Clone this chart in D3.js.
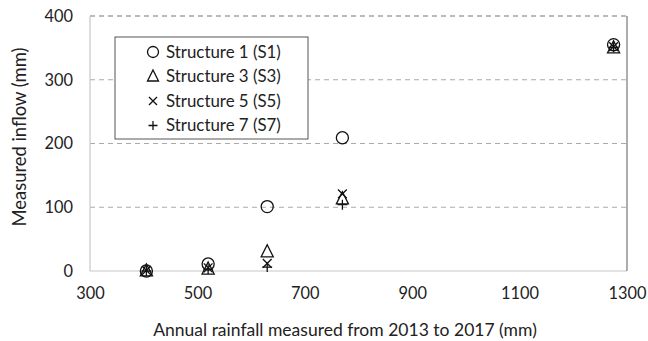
<!DOCTYPE html>
<html><head><meta charset="utf-8">
<script src="https://cdn.jsdelivr.net/npm/d3@7"></script>
<style>body{margin:0;background:#fff}svg{display:block}</style>
</head><body>
<svg id="chart" width="648" height="341"></svg>
<script>
// Annual rainfall (mm) for each observation point
const rainfall = [405, 520, 630, 770, 1275];
// Measured inflow (mm) per structure
const s1 = [0, 11, 101, 209, 355];
const s3 = [0, 3, 30, 113, 350];
const s5 = [1, 5, 12, 121, 352];
const s7 = [0, 3, 6, 104, 351];
const seriesNames = ["Structure 1 (S1)", "Structure 3 (S3)", "Structure 5 (S5)", "Structure 7 (S7)"];
const seriesKeys = ["circle", "triangle", "cross", "plus"];
const xTicks = [300, 500, 700, 900, 1100, 1300];
const yTicks = [0, 100, 200, 300, 400];

const svg = d3.select("#chart");
const font = "Lato, 'Open Sans', 'Liberation Sans', sans-serif";
const m = {left: 90, right: 627, top: 16, bottom: 271};
const x = d3.scaleLinear().domain([300, 1300]).range([m.left, m.right]);
const y = d3.scaleLinear().domain([0, 400]).range([m.bottom, m.top]);

// scale a text element's font size so it spans the given width
function fit(sel, width) {
  const n = sel.node();
  const fs = parseFloat(sel.attr("font-size"));
  const w = n.getComputedTextLength();
  if (w > 0) sel.attr("font-size", (fs * width / w).toFixed(2));
  return sel;
}

// gridlines
svg.append("g").selectAll("line").data(yTicks.filter(d => d > 0)).join("line")
  .attr("x1", m.left).attr("x2", m.right)
  .attr("y1", d => y(d)).attr("y2", d => y(d))
  .attr("stroke", d => d === 400 ? "#777" : "#aaa").attr("stroke-width", 1.2)
  .attr("stroke-dasharray", "5,4");

// frame
svg.append("line").attr("x1", m.left).attr("x2", m.left).attr("y1", m.top).attr("y2", m.bottom)
  .attr("stroke", "#c8c8c8").attr("stroke-width", 1.2);
svg.append("line").attr("x1", m.left).attr("x2", m.right).attr("y1", m.bottom).attr("y2", m.bottom)
  .attr("stroke", "#c8c8c8").attr("stroke-width", 1.2);
svg.append("line").attr("x1", m.right).attr("x2", m.right).attr("y1", m.top).attr("y2", m.bottom)
  .attr("stroke", "#777").attr("stroke-width", 1.2);

// axes via d3 axis generators, lines hidden
const xa = svg.append("g").attr("transform", `translate(0,${m.bottom})`)
  .call(d3.axisBottom(x).tickValues(xTicks).tickFormat(d3.format("d")).tickSize(0).tickPadding(16));
const ya = svg.append("g").attr("transform", `translate(${m.left},0)`)
  .call(d3.axisLeft(y).tickValues(yTicks).tickFormat(d3.format("d")).tickSize(0).tickPadding(17));
let tickSize = 17;
{
  const t = ya.selectAll("text").filter(d => d === 400).attr("font-family", font).attr("font-size", 17);
  const w = t.node().getComputedTextLength();
  tickSize = 17 * 28.5 / w;
}
[xa, ya].forEach(a => {
  a.select(".domain").remove();
  a.selectAll("text").attr("font-family", font).attr("font-size", tickSize.toFixed(2)).attr("fill", "#222");
});

// axis titles
fit(svg.append("text").attr("x", 345).attr("y", 336)
  .attr("text-anchor", "middle").attr("font-family", font).attr("font-size", 16).attr("fill", "#222")
  .text("Annual rainfall measured from 2013 to 2017 (mm)"), 384);
fit(svg.append("text").attr("transform", `translate(26,137) rotate(-90)`)
  .attr("text-anchor", "middle").attr("font-family", font).attr("font-size", 16).attr("fill", "#222")
  .text("Measured inflow (mm)"), 179);

// marker shapes
function marker(g, kind, s) {
  g.attr("fill", "none").attr("stroke", "#111").attr("stroke-width", 1.3);
  if (kind === "circle") g.append("circle").attr("r", s * 0.55);
  else if (kind === "triangle") g.append("path").attr("d", `M0,${-s*0.65}L${s*0.55},${s*0.45}L${-s*0.55},${s*0.45}Z`);
  else if (kind === "cross") g.append("path").attr("d", `M${-s*0.4},${-s*0.4}L${s*0.4},${s*0.4}M${-s*0.4},${s*0.4}L${s*0.4},${-s*0.4}`);
  else g.append("path").attr("d", `M${-s*0.45},0L${s*0.45},0M0,${-s*0.45}L0,${s*0.45}`);
}

const allSeries = [s1, s3, s5, s7];
allSeries.forEach((vals, i) => {
  svg.append("g").selectAll("g").data(vals.map((v, j) => [rainfall[j], v])).join("g")
    .attr("transform", d => `translate(${x(d[0])},${y(d[1])})`)
    .each(function() { marker(d3.select(this), seriesKeys[i], 11); });
});

// legend
const lg = svg.append("g");
lg.append("rect").attr("x", 115).attr("y", 37).attr("width", 193).attr("height", 102)
  .attr("fill", "#fff").attr("stroke", "#555").attr("stroke-width", 1);
seriesNames.forEach((name, i) => {
  const cy = 52 + i * 24.5;
  const mg = lg.append("g").attr("transform", `translate(153,${cy})`);
  marker(mg, seriesKeys[i], 10);
  fit(lg.append("text").attr("x", 166).attr("y", cy + 5.5).attr("font-family", font).attr("font-size", 15)
    .attr("fill", "#222").text(name), 115);
});
</script>
</body></html>
